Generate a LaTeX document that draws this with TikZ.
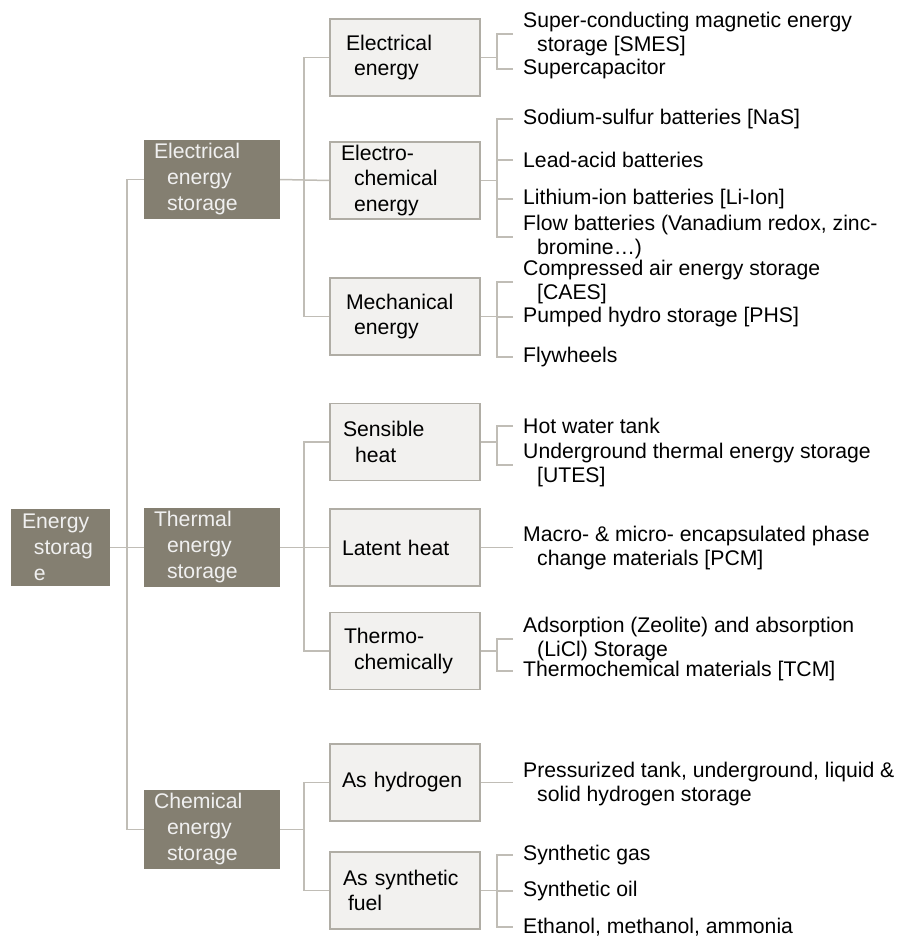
\documentclass[tikz,border=0pt]{standalone}
\usepackage{fontspec}
\setmainfont{Liberation Sans}
\usepackage{tikz}
\definecolor{darkbox}{RGB}{132,127,113}
\definecolor{lightbox}{RGB}{242,241,239}
\definecolor{boxline}{RGB}{176,173,165}
\definecolor{connline}{RGB}{192,189,182}
\tikzset{
  rootbox/.style={fill=darkbox,text=white!94!black,minimum height=77pt,inner xsep=11pt,text width=77pt,align=left,font=\fontsize{21.2}{26}\selectfont},
  catbox/.style={fill=darkbox,text=white!94!black,minimum height=77pt,inner xsep=10pt,text width=116pt,align=left,font=\fontsize{21.2}{26}\selectfont},
  typebox/.style={fill=lightbox,draw=boxline,line width=1.6pt,minimum height=77pt,inner xsep=10pt,text width=130pt,align=left,font=\fontsize{21.2}{25.5}\selectfont},
  leaf/.style={anchor=west,inner xsep=10pt,inner ysep=0pt,align=left},
  conn/.style={draw=connline,line width=1.5pt}
}
\begin{document}
\begin{tikzpicture}[x=1pt,y=-1pt,font=\fontsize{21.2}{24.5}\selectfont]
        \useasboundingbox (0,0) rectangle (901,940);
        \node[rootbox] (es) at (60.5,547.5) {Energy\\\hspace*{12pt}storag\\\hspace*{12pt}e};
        \node[catbox] (elecst)  at (212,179.5) {Electrical\\\hspace*{13pt}energy\\\hspace*{13pt}storage};
        \node[catbox] (thermst) at (212,547.5) {Thermal\\\hspace*{13pt}energy\\\hspace*{13pt}storage};
        \node[catbox] (chemst)  at (212,829.5) {Chemical\\\hspace*{13pt}energy\\\hspace*{13pt}storage};
        \node[typebox] (elecen)     at (405,57.5)  {\hspace*{6pt}Electrical\\\hspace*{14pt}energy};
        \node[typebox] (echem)      at (405,180.5) {\hspace*{1pt}Electro-\\\hspace*{14pt}chemical\\\hspace*{14pt}energy};
        \node[typebox] (mechen)     at (405,316.5) {\hspace*{6pt}Mechanical\\\hspace*{14pt}energy};
        \node[typebox] (sens)       at (405,442)   {\hspace*{3pt}Sensible\\\hspace*{15pt}heat};
        \node[typebox] (latent)     at (405,547.5) {\hspace*{2pt}Latent heat};
        \node[typebox] (thermochem) at (405,651)   {\hspace*{4pt}Thermo-\\\hspace*{14pt}chemically};
        \node[typebox] (hydro)      at (405,782.5) {\hspace*{2pt}As hydrogen};
        \node[typebox] (synfuel)    at (405,890.5) {\hspace*{3pt}As synthetic\\\hspace*{8pt}fuel};
        \node[leaf] (smes)     at (513,34)  {Super-conducting magnetic energy\\\hspace*{14pt}storage [SMES]};
        \node[leaf] (supcap)   at (513,69)  {Supercapacitor};
        \node[leaf] (nas)      at (513,119) {Sodium-sulfur batteries [NaS]};
        \node[leaf] (leadacid) at (513,160) {Lead-acid batteries};
        \node[leaf] (liion)    at (513,199) {Lithium-ion batteries [Li-Ion]};
        \node[leaf] (flow)     at (513,237) {Flow batteries (Vanadium redox, zinc-\\\hspace*{14pt}bromine…)};
        \node[leaf] (caes)     at (513,282) {Compressed air energy storage\\\hspace*{14pt}[CAES]};
        \node[leaf] (phs)      at (513,317) {Pumped hydro storage [PHS]};
        \node[leaf] (fly)      at (513,357) {Flywheels};
        \node[leaf] (hotwater) at (513,426) {Hot water tank};
        \node[leaf] (utes)     at (513,465) {Underground thermal energy storage\\\hspace*{14pt}[UTES]};
        \node[leaf] (pcm)      at (513,548) {Macro- \& micro- encapsulated phase\\\hspace*{14pt}change materials [PCM]};
        \node[leaf] (adsorb)   at (513,639) {Adsorption (Zeolite) and absorption\\\hspace*{14pt}(LiCl) Storage};
        \node[leaf] (tcm)      at (513,671) {Thermochemical materials [TCM]};
        \node[leaf] (h2store)  at (513,784) {Pressurized tank, underground, liquid \&\\\hspace*{14pt}solid hydrogen storage};
        \node[leaf] (syngas)   at (513,855) {Synthetic gas};
        \node[leaf] (synoil)   at (513,891) {Synthetic oil};
        \node[leaf] (alcohol)  at (513,927) {Ethanol, methanol, ammonia};
        \draw[conn] (elecst.west) -- ++(-17,0) |- (chemst.west);
        \draw[conn] (es.east) -- (thermst.west);
        \draw[conn] (elecen.west) -- ++(-25,0) |- (mechen.west);
        \draw[conn] (elecst.east) -- (echem.west);
        \draw[conn] (sens.west) -- ++(-25,0) |- (thermochem.west);
        \draw[conn] (thermst.east) -- (latent.west);
        \draw[conn] (hydro.west) -- ++(-25,0) coordinate (jchem) |- (synfuel.west);
        \draw[conn] (chemst.east) -- (chemst.east -| jchem);
        \draw[conn] (smes.west) -- ++(-16,0) coordinate (jee) |- (supcap.west);
        \draw[conn] (elecen.east) -- (elecen.east -| jee);
        \draw[conn] (nas.west) -- ++(-16,0) coordinate (jec) |- (flow.west);
        \draw[conn] (leadacid.west) -- (leadacid.west -| jec);
        \draw[conn] (liion.west) -- (liion.west -| jec);
        \draw[conn] (echem.east) -- (echem.east -| jec);
        \draw[conn] (caes.west) -- ++(-16,0) coordinate (jme) |- (fly.west);
        \draw[conn] (phs.west) -- (phs.west -| jme);
        \draw[conn] (mechen.east) -- (mechen.east -| jme);
        \draw[conn] (hotwater.west) -- ++(-16,0) coordinate (jse) |- (utes.west);
        \draw[conn] (sens.east) -- (sens.east -| jse);
        \draw[conn] (latent.east) -- (latent.east -| pcm.west);
        \draw[conn] (adsorb.west) -- ++(-16,0) coordinate (jtc) |- (tcm.west);
        \draw[conn] (thermochem.east) -- (thermochem.east -| jtc);
        \draw[conn] (hydro.east) -- (hydro.east -| h2store.west);
        \draw[conn] (syngas.west) -- ++(-16,0) coordinate (jsf) |- (alcohol.west);
        \draw[conn] (synoil.west) -- (synoil.west -| jsf);
        \draw[conn] (synfuel.east) -- (synfuel.east -| jsf);
    \end{tikzpicture}
\end{document}
